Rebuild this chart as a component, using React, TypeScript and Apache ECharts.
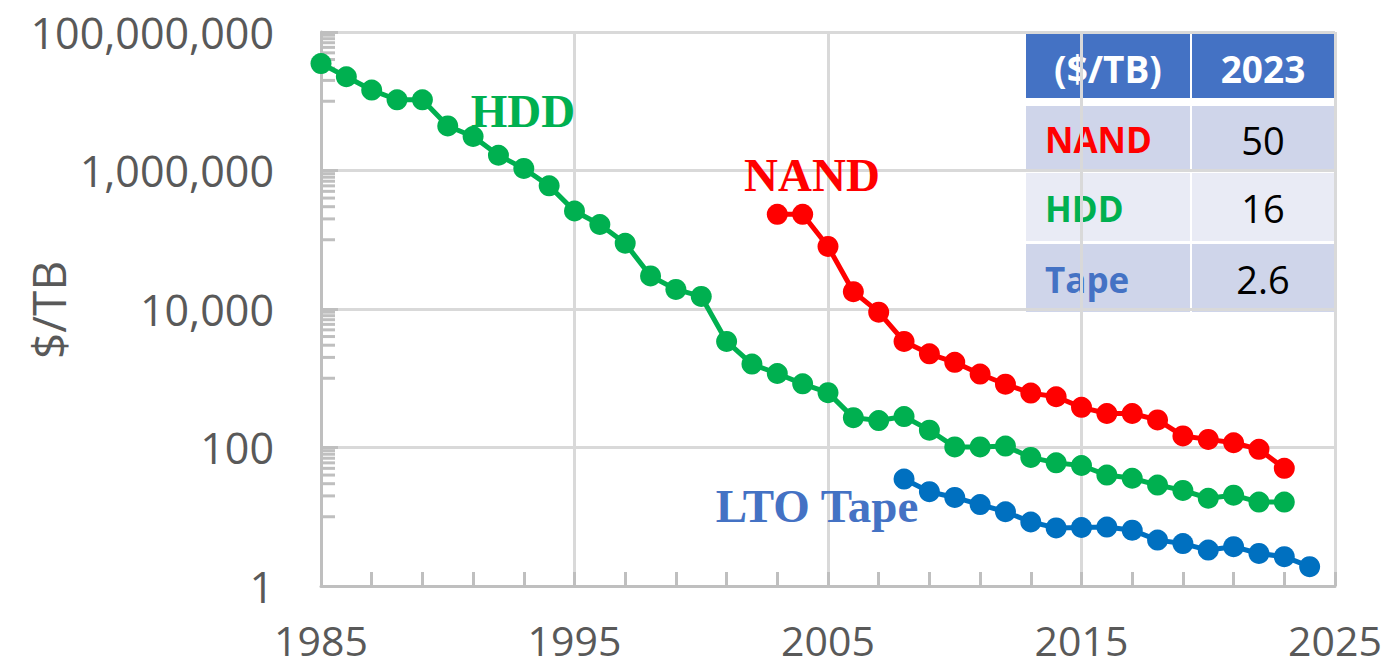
import React, { useEffect, useRef } from "react";
import * as echarts from "echarts";

// ---------- data ----------
const HDD_YEARS = [
  1985, 1986, 1987, 1988, 1989, 1990, 1991, 1992, 1993, 1994, 1995, 1996, 1997,
  1998, 1999, 2000, 2001, 2002, 2003, 2004, 2005, 2006, 2007, 2008, 2009, 2010,
  2011, 2012, 2013, 2014, 2015, 2016, 2017, 2018, 2019, 2020, 2021, 2022, 2023,
];
const HDD_VALUES = [
  3.5e7, 2.26e7, 1.45e7, 1.05e7, 1.05e7, 4.4e6, 3.1e6, 1.66e6, 1.07e6, 6.0e5,
  2.6e5, 1.66e5, 8.9e4, 3.0e4, 1.92e4, 1.52e4, 3.4e3, 1.6e3, 1.17e3, 830, 620,
  270, 245, 280, 178, 102, 102, 105, 72, 60, 55, 40, 36, 28.7, 24, 18.5, 20.5,
  16.3, 16.3,
];
const NAND_YEARS = [
  2003, 2004, 2005, 2006, 2007, 2008, 2009, 2010, 2011, 2012, 2013, 2014, 2015,
  2016, 2017, 2018, 2019, 2020, 2021, 2022, 2023,
];
const NAND_VALUES = [
  2.33e5, 2.33e5, 8.0e4, 1.78e4, 9.0e3, 3.4e3, 2.25e3, 1.7e3, 1.15e3, 820, 610,
  540, 380, 310, 310, 250, 147, 131, 117, 94, 50,
];
const TAPE_YEARS = [
  2008, 2009, 2010, 2011, 2012, 2013, 2014, 2015, 2016, 2017, 2018, 2019, 2020,
  2021, 2022, 2023, 2024,
];
const TAPE_VALUES = [
  35, 23, 19, 15, 11.8, 8.4, 6.9, 7.0, 7.1, 6.4, 4.6, 4.1, 3.3, 3.7, 2.95, 2.65,
  1.9,
];

// minor ticks of the y axis (k x 10^odd)
const Y_MINOR_MULTIPLIERS = [1, 2, 3, 4, 5, 6, 7, 8, 9];
const Y_MINOR_DECADES = [10, 1000, 100000, 10000000];

// table
const TABLE_HEADER = ["($/TB)", "2023"];
const TABLE_ROW_LABELS = ["NAND", "HDD", "Tape"];
const TABLE_ROW_VALUES = ["50", "16", "2.6"];

// chart annotations
const LABEL_HDD = "HDD";
const LABEL_NAND = "NAND";
const LABEL_TAPE = "LTO Tape";
const Y_NAME = "$/TB";

const C_HDD = "#00B050";
const C_NAND = "#FF0000";
const C_TAPE = "#0070C0";
const C_TAPE_LABEL = "#4472C4";
const AXIS_GRAY = "#BFBFBF";
const GRID_GRAY = "#D9D9D9";
const TEXT_GRAY = "#595959";
const SANS = "'Open Sans', 'Noto Sans', sans-serif";
const SERIF = "'Liberation Serif', 'DejaVu Serif', serif";

function pairs(xs: number[], ys: number[]) {
  return xs.map((x, i) => [x, ys[i]]);
}

export default function App() {
  const ref = useRef<HTMLDivElement>(null);

  useEffect(() => {
    if (!ref.current) return;
    const chart = echarts.init(ref.current, undefined, { renderer: "svg" });

    const minorData: number[][] = [];
    Y_MINOR_DECADES.forEach((d) =>
      Y_MINOR_MULTIPLIERS.forEach((m) => minorData.push([1985, m * d]))
    );

    const tableLeft = 1026;
    const colSplit = 1190;
    const col2Left = 1192;
    const tableRight = 1334;
    const rowsY = [
      [32, 98],
      [106, 171],
      [173, 241],
      [244, 312],
    ];
    const rowFill = ["#4472C4", "#CFD5EA", "#E9EBF5", "#CFD5EA"];
    const rowLabelColors = [C_NAND, C_HDD, C_TAPE_LABEL];

    const tableEls: any[] = [];
    rowsY.forEach(([t, b], i) => {
      tableEls.push({
        type: "rect",
        shape: { x: tableLeft, y: t, width: colSplit - tableLeft, height: b - t },
        style: { fill: rowFill[i] },
      });
      tableEls.push({
        type: "rect",
        shape: { x: col2Left, y: t, width: tableRight - col2Left, height: b - t },
        style: { fill: rowFill[i] },
      });
    });
    tableEls.push({
      type: "text",
      x: (tableLeft + colSplit) / 2,
      y: 68,
      style: {
        text: TABLE_HEADER[0],
        fill: "#FFFFFF",
        font: `bold 37px ${SANS}`,
        align: "center",
        verticalAlign: "middle",
      },
    });
    tableEls.push({
      type: "text",
      x: (col2Left + tableRight) / 2,
      y: 68,
      style: {
        text: TABLE_HEADER[1],
        fill: "#FFFFFF",
        font: `bold 37px ${SANS}`,
        align: "center",
        verticalAlign: "middle",
      },
    });
    TABLE_ROW_LABELS.forEach((lab, i) => {
      const [t, b] = rowsY[i + 1];
      const cy = (t + b) / 2 + 1;
      tableEls.push({
        type: "text",
        x: 1045,
        y: cy,
        style: {
          text: lab,
          fill: rowLabelColors[i],
          font: `bold 35px ${SANS}`,
          align: "left",
          verticalAlign: "middle",
        },
      });
      tableEls.push({
        type: "text",
        x: (col2Left + tableRight) / 2,
        y: cy,
        style: {
          text: TABLE_ROW_VALUES[i],
          fill: "#000000",
          font: `38px ${SANS}`,
          align: "center",
          verticalAlign: "middle",
        },
      });
    });

    const lineSeries = (name: string, color: string, data: number[][]) => ({
      name,
      type: "line",
      data,
      symbol: "circle",
      symbolSize: 21,
      lineStyle: { color, width: 5 },
      itemStyle: { color },
      z: 5,
    });

    chart.setOption({
      animation: false,
      backgroundColor: "#FFFFFF",
      grid: {
        left: 321,
        top: 32,
        right: 53,
        bottom: 83,
        containLabel: false,
        outerBoundsMode: "none",
      },
      xAxis: {
        type: "value",
        min: 1985,
        max: 2025,
        interval: 10,
        axisLine: { show: true, lineStyle: { color: AXIS_GRAY, width: 3 } },
        axisTick: {
          show: true,
          inside: true,
          length: 14,
          lineStyle: { color: AXIS_GRAY, width: 3 },
        },
        minorTick: {
          show: true,
          splitNumber: 5,
          length: 14,
          lineStyle: { color: AXIS_GRAY, width: 3 },
        },
        splitLine: { show: true, lineStyle: { color: GRID_GRAY, width: 3 } },
        axisLabel: {
          color: TEXT_GRAY,
          fontSize: 41,
          fontFamily: SANS,
          margin: 33,
          lineHeight: 41,
          formatter: (v: number) => String(v),
        },
      },
      yAxis: {
        type: "log",
        logBase: 100,
        min: 1,
        max: 100000000,
        axisLine: { show: true, lineStyle: { color: AXIS_GRAY, width: 3 } },
        axisTick: {
          show: true,
          inside: true,
          length: 17,
          lineStyle: { color: AXIS_GRAY, width: 3 },
        },
        splitLine: { show: true, lineStyle: { color: GRID_GRAY, width: 3 } },
        axisLabel: {
          color: TEXT_GRAY,
          fontSize: 43,
          fontFamily: SANS,
          margin: 47,
          formatter: (v: number) => Math.round(v).toLocaleString("en-US"),
        },
      },
      series: [
        {
          type: "custom",
          coordinateSystem: "cartesian2d",
          silent: true,
          data: minorData,
          z: 1,
          renderItem: (params: any, api: any) => {
            const p = api.coord([api.value(0), api.value(1)]);
            return {
              type: "line",
              shape: { x1: p[0], y1: p[1], x2: p[0] + 14, y2: p[1] },
              style: { stroke: AXIS_GRAY, lineWidth: 3 },
            };
          },
        },
        lineSeries("HDD", C_HDD, pairs(HDD_YEARS, HDD_VALUES)),
        lineSeries("NAND", C_NAND, pairs(NAND_YEARS, NAND_VALUES)),
        lineSeries("Tape", C_TAPE, pairs(TAPE_YEARS, TAPE_VALUES)),
      ],
      graphic: [
        {
          type: "text",
          x: 48,
          y: 310,
          rotation: Math.PI / 2,
          style: {
            text: Y_NAME,
            fill: TEXT_GRAY,
            font: `46px ${SANS}`,
            align: "center",
            verticalAlign: "middle",
          },
        },
        {
          type: "text",
          x: 523,
          y: 111,
          z: 10,
          style: {
            text: LABEL_HDD,
            fill: C_HDD,
            font: `bold 47px ${SERIF}`,
            align: "center",
            verticalAlign: "middle",
          },
        },
        {
          type: "text",
          x: 812,
          y: 175,
          z: 10,
          style: {
            text: LABEL_NAND,
            fill: C_NAND,
            font: `bold 47px ${SERIF}`,
            align: "center",
            verticalAlign: "middle",
          },
        },
        {
          type: "text",
          x: 817,
          y: 506,
          z: 10,
          style: {
            text: LABEL_TAPE,
            fill: C_TAPE_LABEL,
            font: `bold 47px ${SERIF}`,
            align: "center",
            verticalAlign: "middle",
          },
        },
        { type: "group", z: 20, children: tableEls },
      ],
    });

    return () => chart.dispose();
  }, []);

  return (
    <div
      ref={ref}
      style={{
        position: "fixed",
        left: 0,
        top: 0,
        width: 1388,
        height: 669,
        background: "#FFFFFF",
      }}
    />
  );
}
